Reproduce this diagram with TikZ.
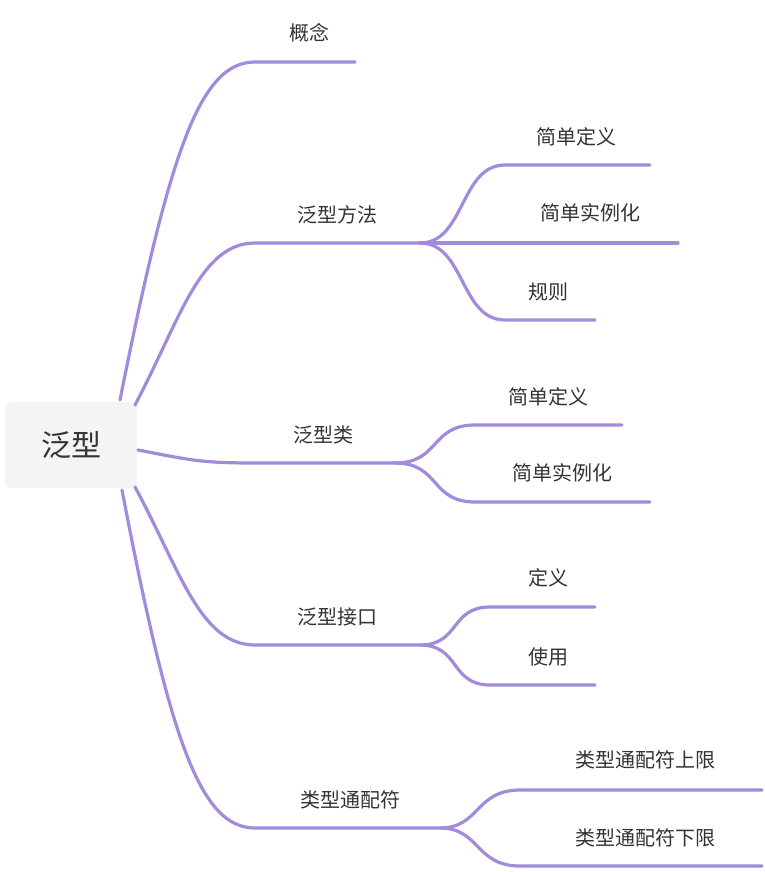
\documentclass[tikz,border=0pt]{standalone}
\usepackage{fontspec}
\setmainfont{Noto Sans CJK SC}
\definecolor{branch}{HTML}{A28BDA}
\definecolor{rootfill}{HTML}{F4F4F4}
\definecolor{txt}{HTML}{333333}
\tikzset{
  link/.style={draw=branch, line width=3.2pt, line cap=round},
  lbl/.style={text=txt, font=\fontsize{20}{24}\selectfont, inner sep=0pt},
  rootbox/.style={fill=rootfill, rounded corners=6pt, minimum width=132pt, minimum height=86pt, text=txt, font=\fontsize{30}{36}\selectfont}
}
\begin{document}
\begin{tikzpicture}[x=1pt,y=-1pt]
\useasboundingbox (0,0) rectangle (764,872);

\node [rootbox] (root) at (71,445) {泛型};

% first level
\coordinate (r1) at (120,400);
\coordinate (r2) at (135,405);
\coordinate (r3) at (138,450);
\coordinate (r4) at (135,487);
\coordinate (r5) at (122,490);

\coordinate (a0) at (255,62);   \coordinate (a1) at (355,62);
\coordinate (b0) at (255,243);  \coordinate (b1) at (420,243);
\coordinate (c0) at (255,463);  \coordinate (c1) at (395,463);
\coordinate (d0) at (255,645);  \coordinate (d1) at (420,645);
\coordinate (e0) at (255,828);  \coordinate (e1) at (440,828);

\draw [link] (r1) .. controls (170,150) and (200,62) .. (a0) -- (a1);
\draw [link] (r2) .. controls (180,320) and (200,243) .. (b0) -- (b1);
\draw [link] (r3) .. controls (190,460) and (200,463) .. (c0) -- (c1);
\draw [link] (r4) .. controls (180,570) and (200,645) .. (d0) -- (d1);
\draw [link] (r5) .. controls (170,740) and (200,828) .. (e0) -- (e1);

\node [lbl] (gainian) at (309,33) {概念};
\node [lbl] (fangfa) at (337,215) {泛型方法};
\node [lbl] (lei) at (323,435) {泛型类};
\node [lbl] (jiekou) at (337,617) {泛型接口};
\node [lbl] (tongpei) at (350,800) {类型通配符};

% second level
\draw [link] (b1) .. controls (465,243) and (460,165) .. (505,165) coordinate (b2) -- (650,165);
\draw [link] (b1) -- (678,243);
\draw [link] (b1) .. controls (465,243) and (460,320) .. (505,320) coordinate (b4) -- (595,320);
\node [lbl] (fa1) at (576,137) {简单定义};
\node [lbl] (fa2) at (590,213) {简单实例化};
\node [lbl] (fa3) at (548,292) {规则};

\draw [link] (c1) .. controls (440,463) and (430,425) .. (475,425) -- (622,425);
\draw [link] (c1) .. controls (440,463) and (430,502) .. (475,502) -- (650,502);
\node [lbl] (lei1) at (548,397) {简单定义};
\node [lbl] (lei2) at (562,473) {简单实例化};

\draw [link] (d1) .. controls (460,645) and (450,607) .. (490,607) -- (595,607);
\draw [link] (d1) .. controls (460,645) and (450,685) .. (490,685) -- (595,685);
\node [lbl] (jk1) at (548,578) {定义};
\node [lbl] (jk2) at (548,657) {使用};

\draw [link] (e1) .. controls (480,828) and (475,790) .. (520,790) -- (762,790);
\draw [link] (e1) .. controls (480,828) and (475,866) .. (520,866) -- (762,866);
\node [lbl] (tp1) at (645,760) {类型通配符上限};
\node [lbl] (tp2) at (645,838) {类型通配符下限};
\end{tikzpicture}
\end{document}
